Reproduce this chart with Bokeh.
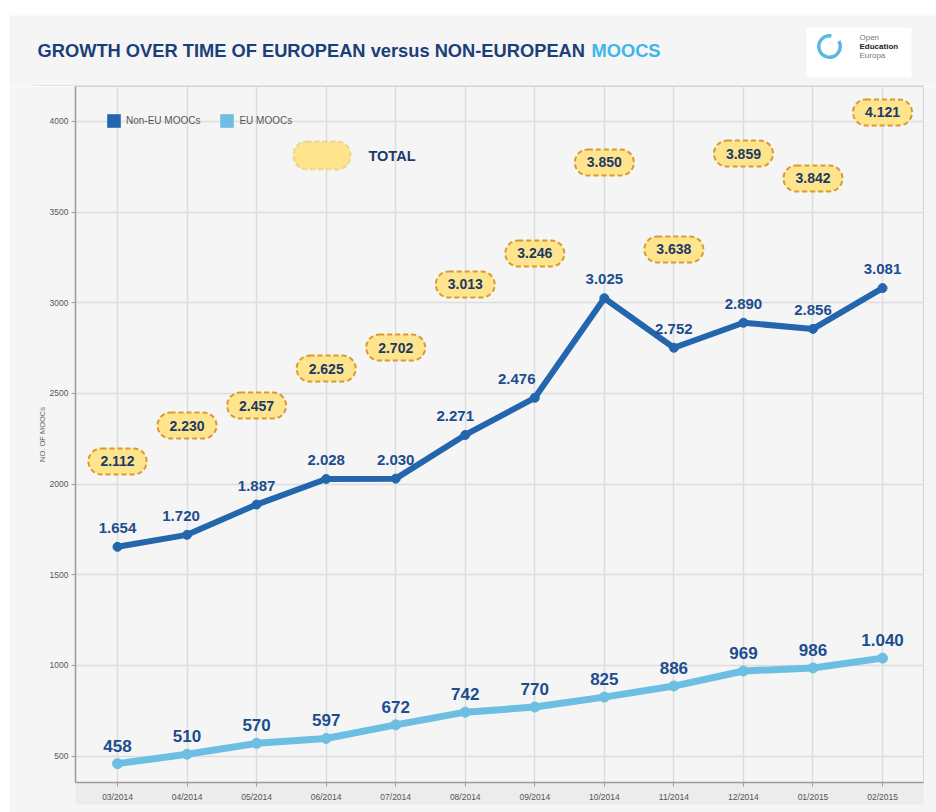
import math
from bokeh.plotting import figure
from bokeh.layouts import column
from bokeh.models import (Range1d, FixedTicker, Label, LabelSet, ColumnDataSource,
                          Legend, LegendItem, BoxAnnotation)
from bokeh.core.properties import value
from bokeh.embed import file_html
from bokeh.resources import INLINE

# ---------------- data ----------------
months = ["03/2014", "04/2014", "05/2014", "06/2014", "07/2014", "08/2014",
          "09/2014", "10/2014", "11/2014", "12/2014", "01/2015", "02/2015"]
non_eu_moocs = [1654, 1720, 1887, 2028, 2030, 2271, 2476, 3025, 2752, 2890, 2856, 3081]
eu_moocs = [458, 510, 570, 597, 672, 742, 770, 825, 886, 969, 986, 1040]
total_moocs = [2112, 2230, 2457, 2625, 2702, 3013, 3246, 3850, 3638, 3859, 3842, 4121]
y_ticks = [500, 1000, 1500, 2000, 2500, 3000, 3500, 4000]

# annotation placement, as in the original
total_bubble_y = [2125, 2323, 2433, 2637, 2753, 3101, 3272, 3774, 3294, 3823, 3686, 4050]
non_eu_label_dx = [0, -6, 0, 0, 0, -10, -18, 0, 0, 0, 0, 0]

# ---------------- layout (page pixels) ----------------
W, H = 936, 812
OX, OY = 9, 15                      # white page margin left / top
HEAD_H = 86                         # header bottom (page y)
FL, FR = 75, 923                    # frame left / right (page x)
FB = 782                            # frame bottom (page y)
MW = W - OX                         # figure widths
MH = H - HEAD_H                     # main figure height
X0, X1 = -0.604, 11.589
Y0, Y1 = 354, 4193

def px2x(px):
    return X0 + (px - FL) / (FR - FL) * (X1 - X0)

def px2y(py):
    return Y1 - (py - HEAD_H) / (FB - HEAD_H) * (Y1 - Y0)

def fmt(v):
    return f"{v:,}".replace(",", ".")

NONEU_C = "#2466ae"
EU_C = "#6cbfe2"
LABEL_C = "#1c4d8e"
BUBBLE_TXT = "#1b3a66"
BUBBLE_FILL = "#fde48d"
BUBBLE_LINE = "#d99b30"
PANEL = "#f5f5f5"
FONT = "Liberation Sans, Arial, sans-serif"

# ---------------- header ----------------
h = figure(width=MW, height=HEAD_H - OY, output_backend="svg", toolbar_location=None,
           x_range=Range1d(OX, W), y_range=Range1d(HEAD_H, OY), min_border=0,
           x_axis_type=None, y_axis_type=None,
           background_fill_color=PANEL, border_fill_color=PANEL, outline_line_color=None)
h.margin = (OY, 0, 0, OX)
h.grid.visible = False
h.segment(x0=[33, 33], y0=[HEAD_H - 0.5, HEAD_H - 0.5], x1=[FR, 33], y1=[HEAD_H - 0.5, HEAD_H],
          line_color="#cfcfcf", line_width=1)
h.text(x=[37], y=[50], text=["GROWTH OVER TIME OF EUROPEAN versus NON-EUROPEAN"],
       text_font=value(FONT), text_font_size="18.3px", text_font_style="bold",
       text_color="#1b3f7a", text_baseline="middle", text_align="left")
h.text(x=[591], y=[50], text=["MOOCS"],
       text_font=value(FONT), text_font_size="18.3px", text_font_style="bold",
       text_color="#3db6ea", text_baseline="middle", text_align="left")
# logo
h.quad(left=[806], right=[911], top=[27], bottom=[77], fill_color="white", line_color=None)
h.annular_wedge(x=[829], y=[46], inner_radius=9, outer_radius=12.5,
                start_angle=math.radians(80), end_angle=math.radians(390),
                fill_color="#5ab7e2", line_color=None)
h.text(x=[859, 859, 859], y=[37, 46, 55], text=["Open", "Education", "Europa"],
       text_font=value(FONT), text_font_size="8px",
       text_font_style=["normal", "bold", "normal"],
       text_color=["#777777", "#222222", "#777777"],
       text_baseline="middle", text_align="left")

# ---------------- main chart ----------------
p = figure(width=MW, height=MH, output_backend="svg", toolbar_location=None,
           x_range=Range1d(X0, X1), y_range=Range1d(Y0, Y1),
           min_border_left=FL - OX, min_border_right=W - FR,
           min_border_top=0, min_border_bottom=H - FB,
           background_fill_color=PANEL, border_fill_color=PANEL,
           outline_line_color="#d4d4d4")
p.margin = (0, 0, 0, OX)

for fig in (h, p):
    if "frame_align" in fig.properties():
        fig.frame_align = False

xs = list(range(len(months)))
p.xaxis.ticker = FixedTicker(ticks=xs)
p.xaxis.major_label_overrides = {i: m for i, m in enumerate(months)}
p.yaxis.ticker = FixedTicker(ticks=y_ticks)
for ax in (p.xaxis[0], p.yaxis[0]):
    ax.axis_line_color = "#9c9c9c"
    ax.axis_line_width = 1.5
    ax.major_tick_out = 4
    ax.major_tick_in = 0
    ax.major_tick_line_color = "#9c9c9c"
    ax.minor_tick_line_color = None
    ax.major_label_text_font = FONT
    ax.major_label_text_font_size = "8.5px"
    ax.major_label_text_color = "#555555"
if "background_fill_color" in p.xaxis[0].properties():
    p.xaxis[0].background_fill_color = "#ececec"
p.xaxis.major_label_standoff = 5
p.yaxis.major_label_standoff = 3
p.yaxis.axis_label = "NO. OF MOOCs"
p.yaxis.axis_label_text_font = FONT
p.yaxis.axis_label_text_font_size = "7.5px"
p.yaxis.axis_label_text_font_style = "normal"
p.yaxis.axis_label_text_color = "#666666"
p.yaxis.axis_label_standoff = 0

p.xgrid.grid_line_color = "#dddddd"
p.xgrid.grid_line_width = 1.5
p.ygrid.grid_line_color = "#dddddd"
p.ygrid.grid_line_width = 1.5

# series
p.line(xs, non_eu_moocs, line_width=6, line_color=NONEU_C, line_join="round")
p.scatter(xs, non_eu_moocs, size=9, fill_color=NONEU_C, line_color=NONEU_C)
p.line(xs, eu_moocs, line_width=7, line_color=EU_C, line_join="round")
p.scatter(xs, eu_moocs, size=10, fill_color=EU_C, line_color=EU_C)

# value labels
src_n = ColumnDataSource(dict(x=xs, y=non_eu_moocs, dx=non_eu_label_dx,
                              t=[fmt(v) for v in non_eu_moocs]))
src_e = ColumnDataSource(dict(x=xs, y=eu_moocs, t=[fmt(v) for v in eu_moocs]))
p.add_layout(LabelSet(x="x", y="y", text="t", source=src_n, x_offset="dx", y_offset=19,
                      text_align="center", text_baseline="middle",
                      text_font=value(FONT), text_font_size="15px",
                      text_font_style="bold", text_color=LABEL_C))
p.add_layout(LabelSet(x="x", y="y", text="t", source=src_e, y_offset=18,
                      text_align="center", text_baseline="middle",
                      text_font=value(FONT), text_font_size="17px",
                      text_font_style="bold", text_color=LABEL_C))

# TOTAL bubbles
def bubble(x, y, text):
    lab = Label(x=x, y=y, text=text, text_align="center", text_baseline="middle",
                text_font=FONT, text_font_size="14px", text_font_style="bold",
                text_color=BUBBLE_TXT, background_fill_color=BUBBLE_FILL,
                border_line_color=BUBBLE_LINE, border_line_width=2,
                border_line_dash="5 3")
    try:
        lab.padding = dict(left=12, right=12, top=8, bottom=8)
    except Exception:
        lab.padding = 8
    try:
        lab.border_radius = 13
    except Exception:
        pass
    return lab

for i, (tv, by) in enumerate(zip(total_moocs, total_bubble_y)):
    p.add_layout(bubble(i, by, fmt(tv)))

# legend (series) - swatch-only renderers that draw nothing in the plot
nan = float("nan")
r_n = p.quad(left=[nan], right=[nan], top=[nan], bottom=[nan], fill_color=NONEU_C, line_color=None)
r_e = p.quad(left=[nan], right=[nan], top=[nan], bottom=[nan], fill_color=EU_C, line_color=None)
legend = Legend(items=[LegendItem(label="Non-EU MOOCs", renderers=[r_n]),
                       LegendItem(label="EU MOOCs", renderers=[r_e])],
                orientation="horizontal", location=(30, (FB - HEAD_H) - 26 - 17),
                padding=0, margin=0, spacing=18, glyph_width=17, glyph_height=17,
                label_height=17, label_standoff=4, label_text_font=FONT,
                label_text_font_size="10px", label_text_color="#555555",
                background_fill_alpha=0, border_line_color=None)
p.add_layout(legend)

# legend (TOTAL)
tb = BoxAnnotation(left=px2x(293), right=px2x(350), top=px2y(141), bottom=px2y(169),
                   fill_color=BUBBLE_FILL, fill_alpha=1, line_color=BUBBLE_LINE,
                   line_width=2, line_dash="5 3")
try:
    tb.border_radius = 13
except Exception:
    pass
p.add_layout(tb)
p.add_layout(Label(x=px2x(368), y=px2y(155), text="TOTAL", text_align="left",
                   text_baseline="middle", text_font=FONT, text_font_size="14.5px",
                   text_font_style="bold", text_color=BUBBLE_TXT))

layout = column(h, p, spacing=0)
open("out.html", "w").write(file_html(layout, INLINE))
